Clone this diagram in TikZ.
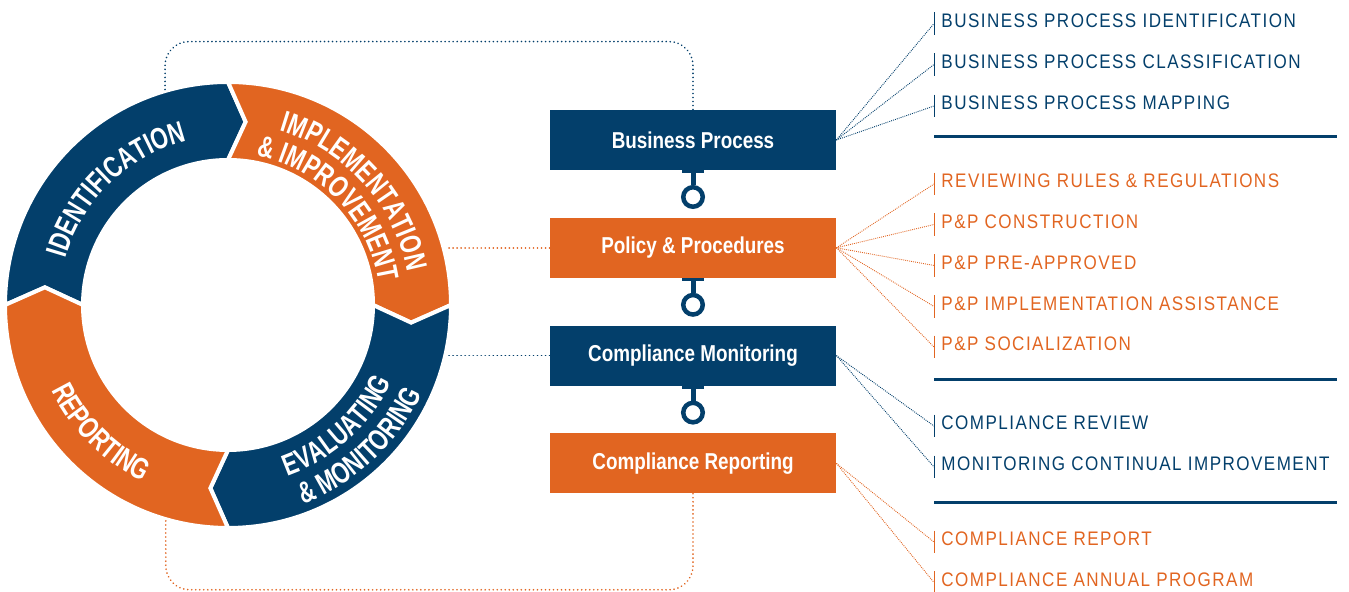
\documentclass[tikz,border=0pt]{standalone}
\usepackage{fontspec}
\setmainfont{Liberation Sans}
\newfontfamily\listfont{Liberation Sans}[FakeStretch=0.87,LetterSpace=7.5]
\newfontfamily\boxfont{Liberation Sans}[FakeStretch=0.82]
\newfontfamily\ringfont{Liberation Sans}[FakeStretch=0.74]
\usetikzlibrary{positioning,calc,decorations.text}

\definecolor{navy}{RGB}{3,63,107}
\definecolor{rust}{RGB}{225,101,33}

\tikzset{
  stage/.style={fill=#1, minimum width=143pt, minimum height=30pt, inner sep=0pt,
    text=white, font=\boxfont\bfseries\fontsize{11.5}{12}\selectfont},
  hub/.style={circle, draw=navy, line width=2.25pt, minimum size=9.75pt, inner sep=0pt},
  stem/.style={draw=navy, line width=2.5pt},
  ringlink/.style={draw=#1, line width=0.9pt, line cap=round, dash pattern=on 0.01pt off 2pt, rounded corners=12pt},
  fan/.style={draw=#1, line width=0.45pt, dash pattern=on 0.45pt off 0.55pt},
  item/.style={anchor=base west, text=#1, inner xsep=3.5pt, inner ysep=0pt,
    text height=7.5pt, text depth=3.5pt, font=\listfont\fontsize{9.8}{10}\selectfont,
    append after command={(\tikzlastnode.north west) edge[draw=#1, line width=0.5pt] (\tikzlastnode.south west)}},
  divider/.style={draw=navy, line width=1.5pt},
  ringtext/.style={decorate, decoration={text along path, text align=center, text color=white,
    text={|\ringfont\bfseries\fontsize{15}{15}\selectfont|#1}}},
}

\begin{document}
\begin{tikzpicture}[x=0.5pt,y=0.5pt]
  \useasboundingbox (0,0) rectangle (1349,592);

  % cycle ring
  \coordinate (ring) at (228,287);
  \begin{scope}[shift={(ring)}]
    \foreach \t/\c in {180/navy,90/rust,0/navy,-90/rust}{
      \pgfmathsetmacro\h{\t-90}
      \filldraw[fill=\c, draw=white, line width=2pt, line join=miter]
        (\t:223) arc[start angle=\t, end angle=\h, radius=223] -- (\h-5.5:184) -- (\h:145)
        arc[start angle=\h, end angle=\t, radius=145] -- (\t-5.5:184) -- cycle;
    }
    \path[ringtext={IDENTIFICATION}] (174:169) arc[start angle=174, end angle=94, radius=169];
    \path[ringtext={IMPLEMENTATION}] (84:182) arc[start angle=84, end angle=0, radius=182];
    \path[ringtext={{\&} IMPROVEMENT}] (90:152) arc[start angle=90, end angle=-2, radius=152];
    \path[ringtext={EVALUATING}] (-93:181) arc[start angle=-93, end angle=-3, radius=181];
    \path[ringtext={{\&} MONITORING}] (-92:213) arc[start angle=-92, end angle=-2, radius=213];
    \path[ringtext={REPORTING}] (180:196) arc[start angle=180, end angle=270, radius=196];
  \end{scope}

  % process boxes
  \node[stage=navy] (bp) at (693,452) {Business Process};
  \node[stage=rust, below=23.5pt of bp] (pp) {Policy \& Procedures};
  \node[stage=navy, below=23.5pt of pp] (cm) {Compliance Monitoring};
  \node[stage=rust, below=23.5pt of cm] (cr) {Compliance Reporting};

  \foreach \a in {bp,pp,cm}{
    \node[hub] (hub-\a) at ([yshift=-13.3pt]\a.south) {};
    \draw[stem] (\a.south) -- (hub-\a);
    \draw[stem, line width=1.5pt] ([xshift=-5.5pt,yshift=-0.75pt]\a.south) -- ([xshift=5.5pt,yshift=-0.75pt]\a.south);
  }

  % links back to the ring
  \coordinate (idtop) at ($(ring)+(106.4:223)$);
  \coordinate (repbot) at ($(ring)+(-106.2:223)$);
  \coordinate (impl) at ($(ring)+(15.1:226)$);
  \coordinate (evam) at ($(ring)+(-12.7:224)$);
  \draw[ringlink=navy] (bp.north) -- ++(0,68) -| (idtop);
  \draw[ringlink=rust] (cr.south) -- ++(0,-96) -| (repbot);
  \draw[ringlink=rust] (pp.west) -- (pp.west -| impl);
  \draw[ringlink=navy] (cm.west) -- (cm.west -| evam);

  % task lists
  \foreach \y/\txt [count=\i] in {564.5/BUSINESS PROCESS IDENTIFICATION,
      523.5/BUSINESS PROCESS CLASSIFICATION, 482/BUSINESS PROCESS MAPPING}
    \node[item=navy] (bpi\i) at (934,\y) {\txt};
  \foreach \y/\txt [count=\i] in {404/REVIEWING RULES \& REGULATIONS,
      363.5/P\&P CONSTRUCTION, 322.5/P\&P PRE-APPROVED,
      281.5/P\&P IMPLEMENTATION ASSISTANCE, 241/P\&P SOCIALIZATION}
    \node[item=rust] (ppi\i) at (934,\y) {\txt};
  \foreach \y/\txt [count=\i] in {162/COMPLIANCE REVIEW, 121/MONITORING CONTINUAL IMPROVEMENT}
    \node[item=navy] (cmi\i) at (934,\y) {\txt};
  \foreach \y/\txt [count=\i] in {46/COMPLIANCE REPORT, 5.5/COMPLIANCE ANNUAL PROGRAM}
    \node[item=rust] (cri\i) at (934,\y) {\txt};

  \foreach \i in {1,2,3} \draw[fan=navy] (bp.east) -- (bpi\i.west);
  \foreach \i in {1,...,5} \draw[fan=rust] (pp.east) -- (ppi\i.west);
  \foreach \i in {1,2} \draw[fan=navy] (cm.east) -- (cmi\i.west);
  \foreach \i in {1,2} \draw[fan=rust] (cr.east) -- (cri\i.west);

  \draw[divider] (934,455) -- (1337,455);
  \draw[divider] (934,212) -- (1337,212);
  \draw[divider] (934,89) -- (1337,89);
\end{tikzpicture}
\end{document}
